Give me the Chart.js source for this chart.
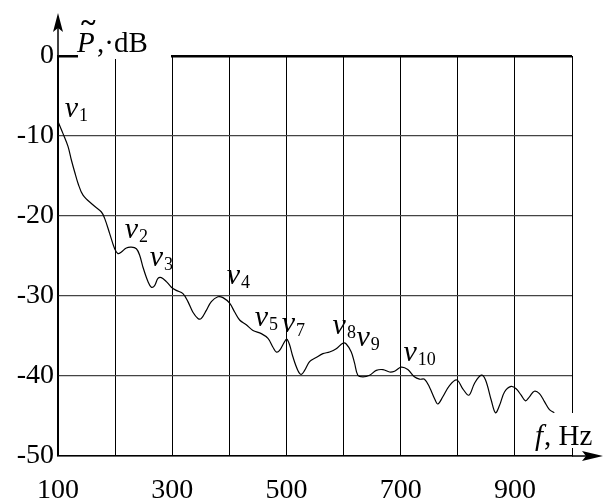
<!DOCTYPE html>
<html>
<head>
<meta charset="utf-8">
<script src="https://cdn.jsdelivr.net/npm/chart.js@4.4.1/dist/chart.umd.min.js"></script>
<style>
html,body{margin:0;padding:0;background:#fff;}
#wrap{width:603px;height:499px;position:relative;}
</style>
</head>
<body>
<div id="wrap"><canvas id="c" width="603" height="499"></canvas></div>
<script>
// ---- data ----
const freq = [100,108.8,117.5,123.4,129.2,135,143.8,161,176,181.7,190.5,199.2,205,211,219.7,228.5,237.2,243,248.8,257.5,263.4,269.2,275,281,289.7,298.5,307,318.8,327.5,336,345,351,359.7,368.5,380,388.8,400.5,409.3,418,429.7,441.4,456,467.7,476.4,482.2,488,496.8,500.8,505.5,511.3,520,526,531.8,540.5,552,563.8,575.5,587.2,598.8,604.7,613.5,619.3,625,634,645.6,657.3,669,680.5,689.3,700.9,712.5,724,733,741.7,750.5,759.2,765,773.8,785.5,798.3,808.8,819.4,829.4,841,848.6,858.5,866,873,881.8,893.4,902.2,911,918.5,925.5,934,943,951.8,960.5,969];
const level = [-8.2,-9.7,-11.3,-13.0,-14.5,-15.9,-17.4,-18.6,-19.5,-20.3,-22.2,-24.1,-24.7,-24.5,-24.0,-23.9,-24.1,-24.9,-26.4,-28.2,-28.9,-28.7,-27.8,-27.7,-28.2,-28.9,-29.3,-29.7,-30.7,-32.0,-32.8,-32.8,-31.8,-30.7,-30.1,-30.2,-30.9,-32.0,-33.0,-33.6,-34.3,-34.7,-35.3,-36.4,-37.0,-36.8,-35.7,-35.4,-36.1,-37.6,-39.3,-39.8,-39.3,-38.2,-37.7,-37.2,-37.0,-36.6,-35.9,-36.0,-37.0,-38.4,-39.9,-40.1,-39.9,-39.3,-39.2,-39.5,-39.4,-38.9,-39.2,-40.1,-40.4,-40.4,-41.4,-42.8,-43.5,-42.6,-41.2,-40.5,-41.6,-42.4,-40.9,-39.9,-40.5,-43.0,-44.6,-43.7,-42.0,-41.3,-41.6,-42.4,-43.1,-42.6,-41.9,-42.2,-43.2,-44.2,-44.6];
const xTickLabels = [100,300,500,700,900];
const yTickLabels = [0,-10,-20,-30,-40,-50];
// peak labels (subscript, anchor in data units)
const peakNames = ['1','2','3','4','5','7','8','9','10'];
const peakF  = [111.7,216.7,260.5,395.3,444.3,491.6,580.8,622.7,705];
const peakDb = [-7.6,-22.8,-26.3,-28.5,-33.8,-34.5,-34.8,-36.3,-38.15];

const SERIF = '"Liberation Serif","DejaVu Serif",serif';

const decor = {
  id:'decor',
  afterDraw(chart){
    const ctx = chart.ctx;
    const xs = chart.scales.x, ys = chart.scales.y;
    const L = xs.getPixelForValue(100), R = xs.getPixelForValue(1000);
    const T = ys.getPixelForValue(0), B = ys.getPixelForValue(-50);
    ctx.save();
    ctx.fillStyle = '#000';
    ctx.strokeStyle = '#000';
    // y axis extension + arrow
    ctx.lineWidth = 1.5;
    ctx.beginPath(); ctx.moveTo(L, T); ctx.lineTo(L, 25); ctx.stroke();
    ctx.beginPath(); ctx.moveTo(L, 13); ctx.lineTo(L-5, 32); ctx.lineTo(L, 28); ctx.lineTo(L+5, 32); ctx.closePath(); ctx.fill();
    // x axis extension + arrow
    ctx.beginPath(); ctx.moveTo(R, B); ctx.lineTo(592, B); ctx.stroke();
    ctx.beginPath(); ctx.moveTo(603, B); ctx.lineTo(582, B-5); ctx.lineTo(586, B); ctx.lineTo(582, B+5); ctx.closePath(); ctx.fill();
    // title box
    ctx.fillStyle = '#fff';
    ctx.fillRect(L+20, 0, 93, T+3);
    ctx.fillStyle = '#000';
    ctx.textBaseline = 'alphabetic';
    ctx.textAlign = 'left';
    ctx.font = 'italic 29px ' + SERIF;
    ctx.fillText('P', 77, 52);
    ctx.font = 'bold 28px ' + SERIF;
    ctx.fillText('~', 81, 31);
    ctx.font = '29px ' + SERIF;
    ctx.fillText(',·dB', 97, 52);
    // f, Hz box
    ctx.fillStyle = '#fff';
    ctx.fillRect(533, 413, 68, 35);
    ctx.fillStyle = '#000';
    ctx.font = 'italic 29px ' + SERIF;
    ctx.fillText('f', 535, 445);
    ctx.font = '29px ' + SERIF;
    ctx.fillText(', Hz', 544, 445);
    // peak labels
    for (let i = 0; i < peakNames.length; i++) {
      const px = xs.getPixelForValue(peakF[i]);
      const py = ys.getPixelForValue(peakDb[i]);
      ctx.font = 'italic 30px ' + SERIF;
      ctx.fillText('v', px, py);
      const w = ctx.measureText('v').width;
      ctx.font = '18px ' + SERIF;
      ctx.fillText(peakNames[i], px + w + 1, py + 4);
    }
    ctx.restore();
  }
};

new Chart(document.getElementById('c'), {
  type: 'line',
  data: {
    datasets: [{
      data: freq.map((f, i) => ({x: f, y: level[i]})),
      borderColor: '#000',
      borderWidth: 1.2,
      pointRadius: 0,
      tension: 0.35,
      fill: false
    }]
  },
  options: {
    responsive: false,
    animation: false,
    events: [],
    layout: { padding: { top: 56, right: 31, left: 0, bottom: 0 } },
    plugins: { legend: { display: false }, tooltip: { enabled: false } },
    scales: {
      x: {
        type: 'linear', min: 100, max: 1000,
        afterFit(s){ s.height = 43; },
        grid: { color: '#000', lineWidth: 1, drawTicks: false },
        border: { color: '#000', width: 1.5 },
        ticks: {
          stepSize: 100, autoSkip: false, maxRotation: 0, padding: 18,
          color: '#000', font: { family: SERIF, size: 28 },
          callback: v => xTickLabels.includes(v) ? String(v) : ''
        }
      },
      y: {
        type: 'linear', min: -50, max: 0,
        afterFit(s){ s.width = 58; },
        grid: {
          color: ctx => ctx.tick && ctx.tick.value === 0 ? '#000' : '#444',
          lineWidth: ctx => ctx.tick && ctx.tick.value === 0 ? 2.5 : 1.3,
          drawTicks: false
        },
        border: { color: '#000', width: 1.5 },
        ticks: {
          stepSize: 10, padding: 4,
          color: '#000', font: { family: SERIF, size: 28 },
          callback: v => yTickLabels.includes(v) ? String(v) : ''
        }
      }
    }
  },
  plugins: [decor]
});
</script>
</body>
</html>
